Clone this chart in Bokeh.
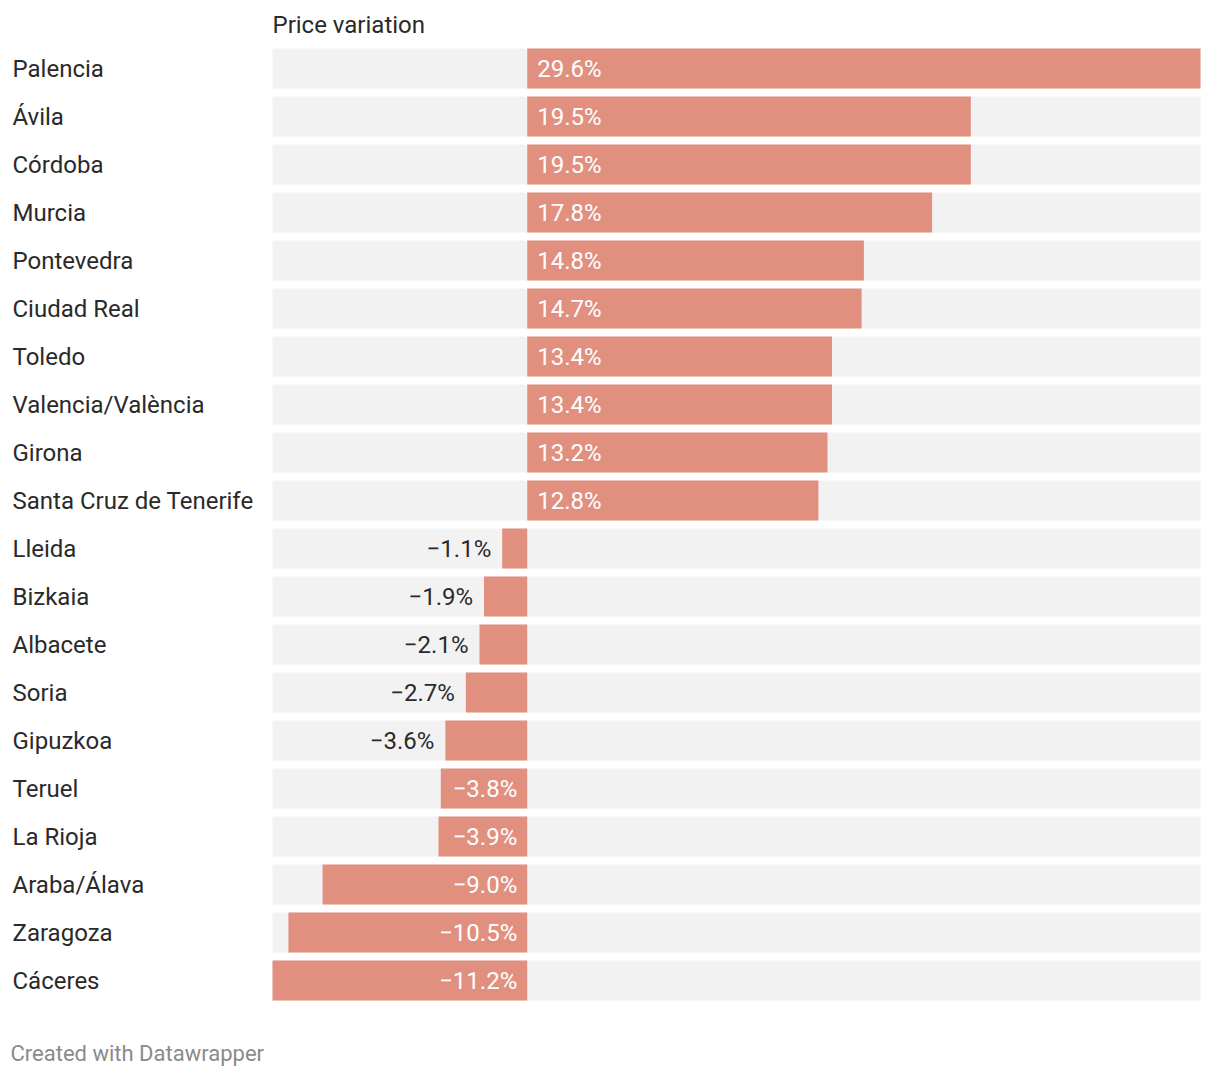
from bokeh.plotting import figure
from bokeh.models import Range1d, ColumnDataSource
from bokeh.core.properties import value
from bokeh.embed import file_html
from bokeh.resources import INLINE

provinces = ["Palencia", "Ávila", "Córdoba", "Murcia", "Pontevedra", "Ciudad Real",
             "Toledo", "Valencia/València", "Girona", "Santa Cruz de Tenerife",
             "Lleida", "Bizkaia", "Albacete", "Soria", "Gipuzkoa", "Teruel",
             "La Rioja", "Araba/Álava", "Zaragoza", "Cáceres"]
variation = [29.6, 19.5, 19.5, 17.8, 14.8, 14.7, 13.4, 13.4, 13.2, 12.8,
             -1.1, -1.9, -2.1, -2.7, -3.6, -3.8, -3.9, -9.0, -10.5, -11.2]
header = "Price variation"
footer = "Created with Datawrapper"

W, H = 1212, 1068
PLOT_L, PLOT_R = 272, 1200          # pixel extent of the value area inside the canvas
vmin, vmax = min(variation), max(variation)
scale = (PLOT_R - PLOT_L) / (vmax - vmin)
x0 = vmin - PLOT_L / scale
x1 = vmin + (W - PLOT_L) / scale

def px(p):
    return x0 + p / scale

ROW0, PITCH, BAR_H = 68, 48, 40
ys = [ROW0 + PITCH * i for i in range(len(provinces))]

BAR = "#e1907f"
BG = "#f2f2f2"
TXT = "#2a2a2a"

def fmt(v):
    s = f"{abs(v):.1f}%"
    return ("\u2212" + s) if v < 0 else s

labels = [fmt(v) for v in variation]
inside = [abs(v) * scale > 84 for v in variation]
lab_x, lab_align, lab_col = [], [], []
for v, ins in zip(variation, inside):
    if v >= 0:
        lab_x.append(0 + 10 / scale); lab_align.append("left"); lab_col.append("white")
    elif ins:
        lab_x.append(0 - 10 / scale); lab_align.append("right"); lab_col.append("white")
    else:
        lab_x.append(v - 11 / scale); lab_align.append("right"); lab_col.append(TXT)

src = ColumnDataSource(dict(
    y=ys, name=provinces, v=variation,
    left=[min(0, v) for v in variation], right=[max(0, v) for v in variation],
    bgl=[vmin] * len(ys), bgr=[vmax] * len(ys),
    lab=labels, lx=lab_x, la=lab_align, lc=lab_col,
    nx=[px(12)] * len(ys),
))

p = figure(width=W, height=H, x_range=Range1d(x0, x1), y_range=Range1d(H, 0),
           output_backend="svg", toolbar_location=None, min_border=0,
           x_axis_type=None, y_axis_type=None, outline_line_color=None,
           background_fill_color="white", border_fill_color="white")
p.grid.visible = False

p.hbar(y="y", left="bgl", right="bgr", height=BAR_H, source=src, fill_color=BG, line_color=None)
p.hbar(y="y", left="left", right="right", height=BAR_H, source=src, fill_color=BAR, line_color=None)

p.text(x="nx", y="y", text="name", source=src, text_font=value("Roboto"),
       text_font_size="24px", text_color=TXT, text_baseline="middle", text_align="left")
p.text(x="lx", y="y", text="lab", source=src, text_font=value("Roboto"),
       text_font_size="24px", text_color="lc", text_baseline="middle", text_align="la")

p.text(x=[vmin], y=[24], text=[header], text_font=value("Roboto"),
       text_font_size="24px", text_color=TXT, text_baseline="middle", text_align="left")
p.text(x=[px(10)], y=[1053], text=[footer], text_font=value("Roboto"),
       text_font_size="22px", text_color="#8a8a8a", text_baseline="middle", text_align="left")

open("out.html", "w").write(file_html(p, INLINE))
